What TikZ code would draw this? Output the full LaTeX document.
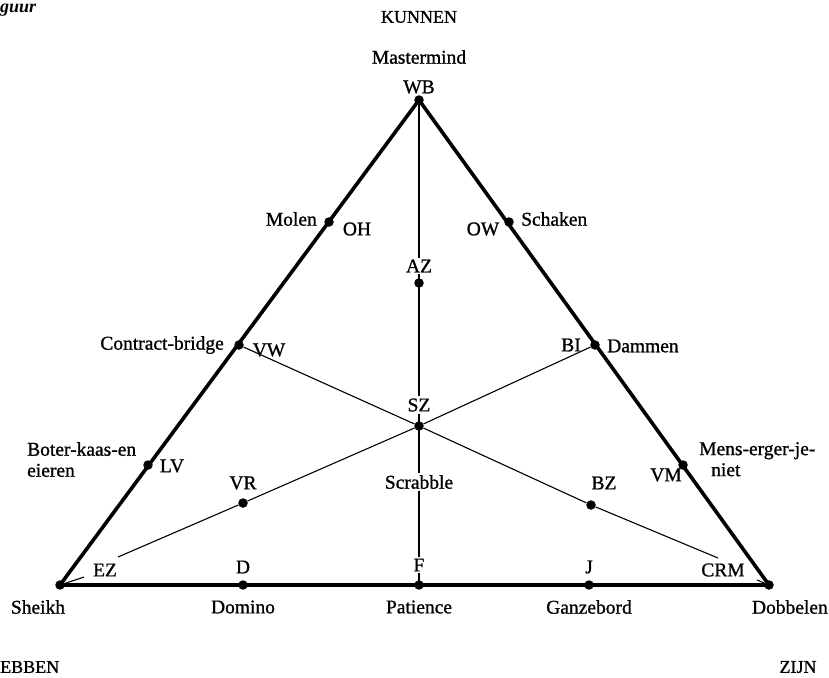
\documentclass[tikz,border=0pt]{standalone}
\usepackage{fontspec}
\setmainfont{Liberation Serif}
\newfontfamily\lblfont[FakeBold=1]{Liberation Serif}
\begin{document}
\begin{tikzpicture}[x=1pt,y=-1pt,
  every node/.style={font=\lblfont\fontsize{19.5}{21}\selectfont, inner sep=1pt},
  dot/.style={circle,fill=black,inner sep=0pt,minimum size=9.5pt},
  side/.style={line width=3.6pt,line join=round},
  inner/.style={line width=1.1pt},
  caps/.style={font=\lblfont\fontsize{18}{20}\selectfont},
  wlbl/.style={fill=white,inner sep=2pt}]
\useasboundingbox (0,0) rectangle (829,677);
% vertices
\node[dot] (L) at (60,585) {};
\node[dot] (T) at (419,100) {};
\node[dot] (R) at (769,585) {};
% points on sides
\node[dot] (OH) at (329,222) {};
\node[dot] (VW) at (239,345) {};
\node[dot] (LV) at (148,465) {};
\node[dot] (OW) at (509,222) {};
\node[dot] (BI) at (595,345) {};
\node[dot] (VM) at (683,465) {};
\node[dot] (D) at (243,585) {};
\node[dot] (F) at (419,585) {};
\node[dot] (J) at (589,585) {};
% interior
\node[dot] (AZ) at (419,283) {};
\node[dot] (SZ) at (419,426) {};
\node[dot] (VR) at (243,503) {};
\node[dot] (BZ) at (591,505) {};
\coordinate (ezend) at (118,557);
\coordinate (crmend) at (718,558);
\coordinate (ezptr) at (84,577);
\coordinate (crmptr) at (757,580);
% lines
\draw[inner] (T.center) -- (F.center);
\draw[inner] (BI) -- (SZ) -- (VR) -- (ezend);
\draw[inner] (VW) -- (SZ) -- (BZ) -- (crmend);
\draw[inner] (ezptr) -- (L);
\draw[inner] (crmptr) -- (R);
\draw[side] (L.center) -- (T.center) -- (R.center) -- cycle;
% labels
\node[anchor=base west,font=\fontsize{18}{20}\selectfont\bfseries\itshape] (fig) at (-1,13) {guur};
\node[caps] (kunnen) at (419,17) {KUNNEN};
\node (mm) at (419,57) {Mastermind};
\node (wb) at (419,87) {WB};
\node[anchor=east] (molen) at (318,219) {Molen};
\node (oh) at (357,229) {OH};
\node (ow) at (483,229) {OW};
\node[anchor=west] (schaken) at (520,219) {Schaken};
\node[wlbl] (az) at (419,266) {AZ};
\node[anchor=east] (cb) at (225,345) {Contract-bridge};
\node (vw) at (269,350) {VW};
\node (bi) at (571,345) {BI};
\node[anchor=west] (dammen) at (606,346) {Dammen};
\node[wlbl] (sz) at (419,405) {SZ};
\node[anchor=north west,align=left,inner sep=0pt] (bke) at (27,442) {Boter-kaas-en\\eieren};
\node (lv) at (172,466) {LV};
\node[anchor=north west,align=left,inner sep=0pt] (meji) at (699,442) {Mens-erger-je-\\\hspace*{12pt}niet};
\node (vm) at (666,475) {VM};
\node (vr) at (243,483) {VR};
\node (bz) at (604,483) {BZ};
\node[wlbl] (scr) at (419,482) {Scrabble};
\node (ez) at (105,570) {EZ};
\node (dl) at (243,567) {D};
\node[wlbl] (fl) at (419,565) {F};
\node (jl) at (589,567) {J};
\node (crm) at (723,570) {CRM};
\node (sheikh) at (38,607) {Sheikh};
\node (domino) at (243,607) {Domino};
\node (patience) at (419,607) {Patience};
\node (ganz) at (589,607) {Ganzebord};
\node[anchor=east] (dob) at (829,607) {Dobbelen};
\node[caps,anchor=west] (hebben) at (-1,667) {EBBEN};
\node[caps] (zijn) at (798,667) {ZIJN};
\end{tikzpicture}
\end{document}
